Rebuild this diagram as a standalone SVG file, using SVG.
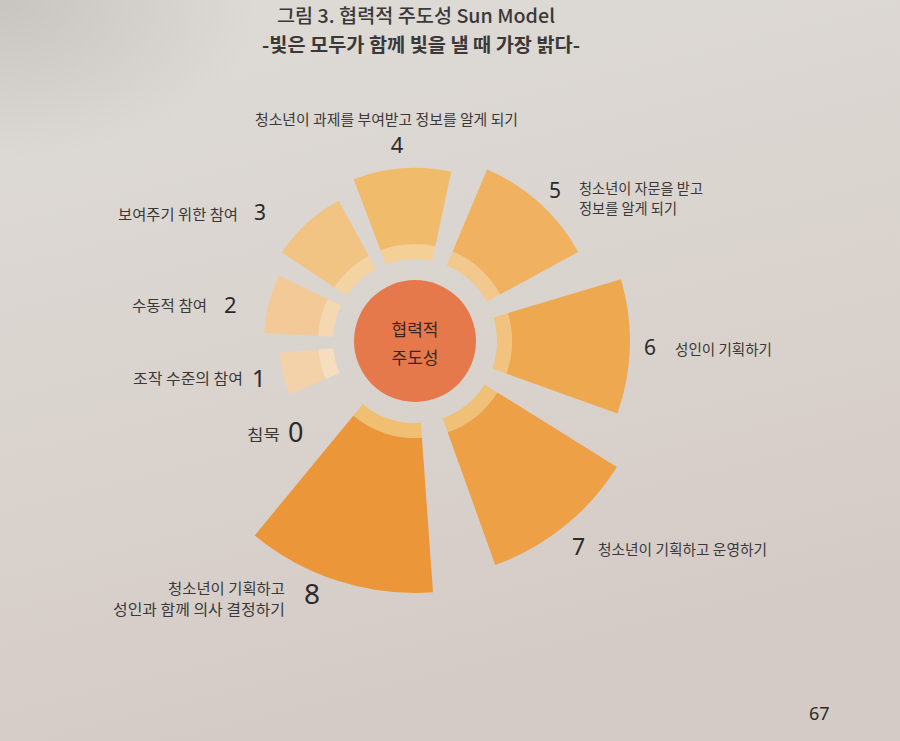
<svg xmlns="http://www.w3.org/2000/svg" width="900" height="741" viewBox="0 0 900 741">
<defs>
<linearGradient id="paper" x1="0" y1="0" x2="0.3" y2="1">
<stop offset="0" stop-color="#dedbd7"/>
<stop offset="0.5" stop-color="#dad4cf"/>
<stop offset="1" stop-color="#d5cbc6"/>
</linearGradient>
<radialGradient id="shade" cx="0" cy="0" r="1" gradientUnits="objectBoundingBox">
<stop offset="0" stop-color="#b9b5b1" stop-opacity="0.6"/>
<stop offset="1" stop-color="#b9b5b1" stop-opacity="0"/>
</radialGradient>
</defs>
<style>
text{font-family:"Noto Sans CJK KR","Noto Sans",sans-serif;fill:#3b3838}
.lbl{font-size:14.5px}
.num{font-family:"Noto Sans","Noto Sans CJK KR",sans-serif;fill:#2c2a2a}
.ctr{font-size:17px;fill:#3a2520;text-anchor:middle}
.ray circle{fill:none}
.band{stroke-width:15}
</style>
<rect width="900" height="741" fill="url(#paper)"/>
<rect width="260" height="160" fill="url(#shade)"/>
<g id="title">
<text x="416" y="23" font-size="19" font-weight="500" text-anchor="middle" textLength="278" lengthAdjust="spacingAndGlyphs" fill="#262424">그림 3. 협력적 주도성 Sun Model</text>
<text x="421" y="52" font-size="19" font-weight="700" text-anchor="middle" textLength="318" lengthAdjust="spacingAndGlyphs" fill="#262424">-빛은 모두가 함께 빛을 낼 때 가장 밝다-</text>
</g>
<g id="sun" transform="translate(415,341)">
<g id="ray1" class="ray">
<circle r="89.5" class="band" stroke="#f5ddbd" pathLength="360" stroke-dasharray="18 360" transform="rotate(157)"/>
<circle r="116.5" stroke-width="39" stroke="#f3d2a9" pathLength="360" stroke-dasharray="18 360" transform="rotate(157)"/>
</g>
<g id="ray2" class="ray">
<circle r="89.5" class="band" stroke="#f5d8b1" pathLength="360" stroke-dasharray="22.7 360" transform="rotate(183)"/>
<circle r="124" stroke-width="54" stroke="#f3ca97" pathLength="360" stroke-dasharray="22.7 360" transform="rotate(183)"/>
</g>
<g id="ray3" class="ray">
<circle r="89.5" class="band" stroke="#f4d3a3" pathLength="360" stroke-dasharray="27.9 360" transform="rotate(213.6)"/>
<circle r="128.5" stroke-width="63" stroke="#f2c484" pathLength="360" stroke-dasharray="27.9 360" transform="rotate(213.6)"/>
</g>
<g id="ray4" class="ray">
<circle r="89.5" class="band" stroke="#f4cf96" pathLength="360" stroke-dasharray="32.9 360" transform="rotate(249.2)"/>
<circle r="135" stroke-width="76" stroke="#f1bb6c" pathLength="360" stroke-dasharray="32.9 360" transform="rotate(249.2)"/>
</g>
<g id="ray5" class="ray">
<circle r="89.5" class="band" stroke="#f3c88c" pathLength="360" stroke-dasharray="38.6 360" transform="rotate(292.8)"/>
<circle r="141.5" stroke-width="89" stroke="#f0b260" pathLength="360" stroke-dasharray="38.6 360" transform="rotate(292.8)"/>
</g>
<g id="ray6" class="ray">
<circle r="89.5" class="band" stroke="#f2c37f" pathLength="360" stroke-dasharray="36.4 360" transform="rotate(343.3)"/>
<circle r="156" stroke-width="118" stroke="#eea84f" pathLength="360" stroke-dasharray="36.4 360" transform="rotate(343.3)"/>
</g>
<g id="ray7" class="ray">
<circle r="89.5" class="band" stroke="#f1c077" pathLength="360" stroke-dasharray="38.3 360" transform="rotate(32)"/>
<circle r="167.5" stroke-width="141" stroke="#eda045" pathLength="360" stroke-dasharray="38.3 360" transform="rotate(32)"/>
</g>
<g id="ray8" class="ray">
<circle r="89.5" class="band" stroke="#f0bf72" pathLength="360" stroke-dasharray="43.6 360" transform="rotate(85.9)"/>
<circle r="174.5" stroke-width="155" stroke="#eb9638" pathLength="360" stroke-dasharray="43.6 360" transform="rotate(85.9)"/>
</g>
<g id="center">
<circle r="61" fill="#e6794b"/>
<text class="ctr" x="0" y="-5">협력적</text>
<text class="ctr" x="0" y="23">주도성</text>
</g>
</g>
<g id="label0">
<text class="lbl" x="247" y="440" textLength="33" lengthAdjust="spacingAndGlyphs">침묵</text>
<text class="num" x="288" y="442" font-size="27">0</text>
</g>
<g id="label1">
<text class="lbl" x="133" y="384" textLength="110" lengthAdjust="spacingAndGlyphs">조작 수준의 참여</text>
<text class="num" x="252" y="387" font-size="24">1</text>
</g>
<g id="label2">
<text class="lbl" x="132" y="311" textLength="75" lengthAdjust="spacingAndGlyphs">수동적 참여</text>
<text class="num" x="224" y="313" font-size="22">2</text>
</g>
<g id="label3">
<text class="lbl" x="118" y="220" textLength="120" lengthAdjust="spacingAndGlyphs">보여주기 위한 참여</text>
<text class="num" x="254" y="220" font-size="21">3</text>
</g>
<g id="label4">
<text class="lbl" x="255" y="125" textLength="263" lengthAdjust="spacingAndGlyphs">청소년이 과제를 부여받고 정보를 알게 되기</text>
<text class="num" x="397" y="153" font-size="22" text-anchor="middle">4</text>
</g>
<g id="label5">
<text class="num" x="549" y="198" font-size="21">5</text>
<text class="lbl" x="579" y="194" textLength="124" lengthAdjust="spacingAndGlyphs">청소년이 자문을 받고</text>
<text class="lbl" x="579" y="214" textLength="98" lengthAdjust="spacingAndGlyphs">정보를 알게 되기</text>
</g>
<g id="label6">
<text class="num" x="644" y="355" font-size="21">6</text>
<text class="lbl" x="675" y="355" textLength="97" lengthAdjust="spacingAndGlyphs">성인이 기획하기</text>
</g>
<g id="label7">
<text class="num" x="572" y="555" font-size="23">7</text>
<text class="lbl" x="598" y="555" textLength="169" lengthAdjust="spacingAndGlyphs">청소년이 기획하고 운영하기</text>
</g>
<g id="label8">
<text class="lbl" x="285" y="594" text-anchor="end" textLength="117" lengthAdjust="spacingAndGlyphs">청소년이 기획하고</text>
<text class="lbl" x="285" y="615" text-anchor="end" textLength="172" lengthAdjust="spacingAndGlyphs">성인과 함께 의사 결정하기</text>
<text class="num" x="304" y="604" font-size="28">8</text>
</g>
<g id="connectors"/>
<text class="num" x="809" y="720" font-size="18" fill="#333">67</text>
</svg>
